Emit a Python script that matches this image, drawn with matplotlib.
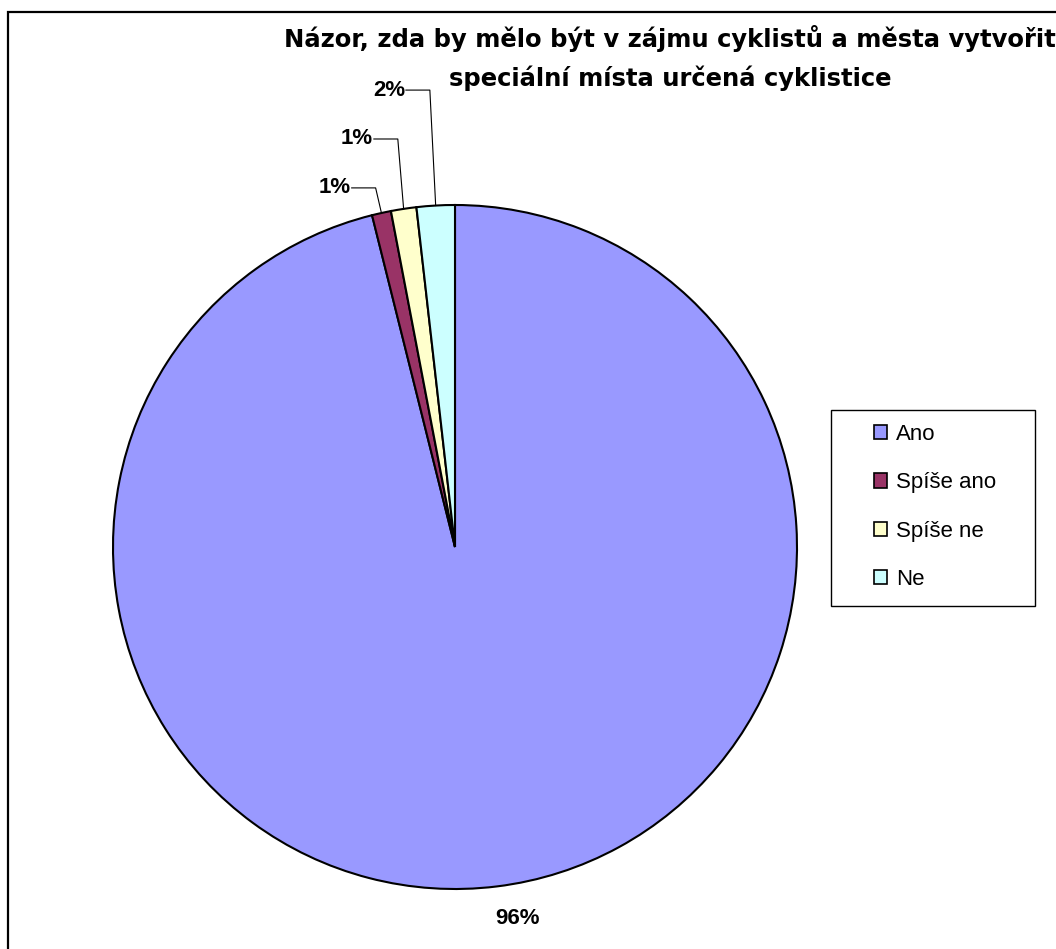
import numpy as np
import matplotlib
matplotlib.use("Agg")
from matplotlib import pyplot as plt
from matplotlib.patches import Rectangle

plt.rcParams['font.family'] = ['Liberation Sans', 'DejaVu Sans']

# answers in percent of respondents
answers = ["Ano", "Spíše ano", "Spíše ne", "Ne"]
shares = [96.1, 0.9, 1.2, 1.8]
colors = ["#9999FF", "#993366", "#FFFFCC", "#CCFFFF"]

title_lines = ["Názor, zda by mělo být v zájmu cyklistů a města vytvořit",
               "speciální místa určená cyklistice"]

W, H = 1056, 949
fig = plt.figure(figsize=(W / 100, H / 100), dpi=100)

# outer frame of the chart area
fig.add_artist(Rectangle((8 / W, -0.02), 1.02, 1 - 12 / H + 0.02, transform=fig.transFigure,
                         fill=False, edgecolor="black", lw=1.6, clip_on=False))

ax = fig.add_axes([113 / W, 60 / H, 684 / W, 684 / H])
wedges, _ = ax.pie(shares, colors=colors, startangle=90, counterclock=False,
                   wedgeprops=dict(edgecolor="black", linewidth=1.5))
ax.set_xlim(-1, 1)
ax.set_ylim(-1, 1)
ax.set_aspect("equal")
ax.axis("off")

# percent labels; small slices get a leader line up to the label
label_heights = [None, 1.05, 1.193, 1.336]
total = sum(shares)
for w, val, ly in zip(wedges, shares, label_heights):
    ang = np.deg2rad((w.theta1 + w.theta2) / 2)
    txt = "%.0f%%" % (100 * val / total)
    if ly is None:
        ax.text(1.095 * np.cos(ang) - 0.015, 1.095 * np.sin(ang), txt, ha="left", va="center",
                fontsize=16, fontweight="bold", clip_on=False)
        continue
    px, py = np.cos(ang), np.sin(ang)
    ex = px - 0.017
    ax.plot([px, ex, ex - 0.07], [py, ly, ly], color="black", lw=0.8, clip_on=False)
    ax.text(ex - 0.072, ly, txt, ha="right", va="center", fontsize=16,
            fontweight="bold", clip_on=False)

# two-line title
for line, yp in zip(title_lines, [38, 78]):
    fig.text(670 / W, 1 - yp / H, line, ha="center", va="center", fontsize=17.5,
             fontweight="bold", family="DejaVu Sans")

# legend box
fig.add_artist(Rectangle((831 / W, 1 - 606 / H), 204 / W, 196 / H, transform=fig.transFigure,
                         fill=False, edgecolor="black", lw=1.0))
leg = fig.legend(wedges, answers, loc="center left",
                 bbox_to_anchor=(874 / W, 1 - 507 / H), bbox_transform=fig.transFigure,
                 frameon=False, fontsize=16, borderpad=0, borderaxespad=0,
                 handlelength=0.6, handleheight=0.6, handletextpad=0.4, labelspacing=1.23)
for h in leg.legend_handles:
    h.set_linewidth(1.2)

fig.savefig("out.png", dpi=100)
